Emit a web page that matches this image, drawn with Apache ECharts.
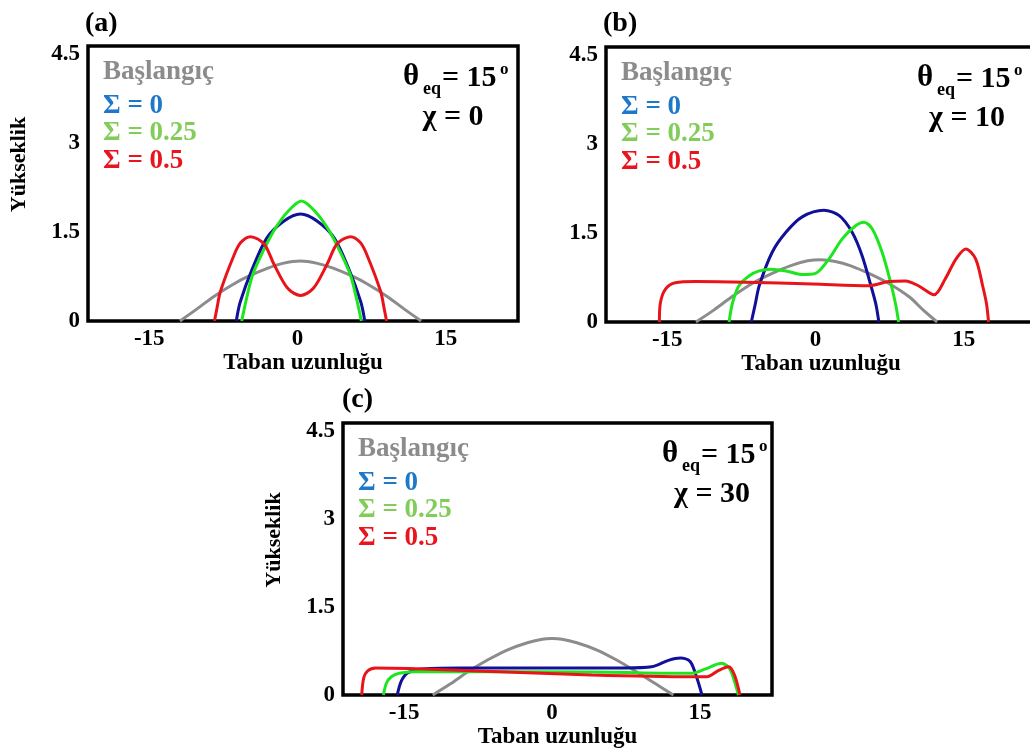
<!DOCTYPE html>
<html><head><meta charset="utf-8">
<script src="https://cdn.jsdelivr.net/npm/echarts@6/dist/echarts.min.js"></script>
<style>html,body{margin:0;padding:0;background:#fff}#c{width:1030px;height:756px}</style>
</head><body><div id="c"></div>
<script>
// ---------- data ----------
const xTickValues = [-15, 0, 15];
const yTickValues = [0, 1.5, 3, 4.5];
const seriesNames = ['Başlangıç', 'Σ = 0', 'Σ = 0.25', 'Σ = 0.5'];
const panelLabels = ['(a)', '(b)', '(c)'];
const thetaText = ['θ', 'eq', '= 15', 'o'];
const chiLabels = ['χ = 0', 'χ = 10', 'χ = 30'];
const xAxisTitle = 'Taban uzunluğu';
const yAxisTitle = 'Yükseklik';

// panel (a): χ = 0
const a_initial = [[-11.9,0],[-10.2,0.2],[-8.5,0.41],[-6.5,0.62],[-5,0.75],[-3,0.89],[-1.5,0.97],[0.3,1.01],[2,0.97],[3.6,0.89],[5.6,0.75],[7.1,0.62],[9.1,0.41],[10.8,0.2],[12.5,0]];
const a_s0 = [[-6.2,0],[-5.8,0.32],[-4.55,0.89],[-3.1,1.4],[-1.4,1.68],[0.3,1.8],[2.0,1.68],[3.7,1.4],[5.15,0.89],[6.4,0.32],[6.8,0]];
const a_s025 = [[-5.65,0],[-5.2,0.35],[-4.6,0.75],[-3.7,1.1],[-2.4,1.52],[-1.0,1.84],[0.4,2.02],[1.8,1.84],[3.2,1.52],[4.5,1.1],[5.4,0.75],[6.0,0.35],[6.45,0]];
const a_s05 = [[-8.4,0],[-8.15,0.22],[-7.8,0.5],[-6.4,1.12],[-5.75,1.32],[-4.75,1.42],[-3.4,1.3],[-2.4,0.96],[-1.0,0.55],[0.3,0.43],[1.6,0.55],[3.0,0.96],[4.0,1.3],[5.35,1.42],[6.35,1.32],[7.0,1.12],[8.4,0.5],[8.75,0.22],[9.0,0]];

// panel (b): χ = 10
const b_initial = [[-12.1,0],[-10.3,0.2],[-8.5,0.42],[-6.5,0.64],[-4.5,0.81],[-2.5,0.95],[-0.8,1.03],[0.5,1.05],[2,1.02],[3.5,0.95],[5.5,0.81],[7.5,0.64],[9.5,0.42],[10.9,0.2],[12.3,0]];
const b_s0 = [[-6.5,0],[-6.1,0.3],[-5.7,0.61],[-4.4,1.17],[-3.0,1.51],[-1.35,1.77],[0.85,1.88],[2.4,1.79],[3.7,1.51],[4.7,1.12],[5.6,0.61],[6.1,0.3],[6.4,0]];
const b_s025 = [[-8.75,0],[-8.4,0.32],[-7.75,0.61],[-6.7,0.78],[-5.7,0.86],[-4.55,0.89],[-3.0,0.86],[-1.35,0.8],[0,0.82],[1.35,1.06],[2.7,1.4],[4.05,1.62],[4.9,1.68],[5.73,1.57],[6.74,1.17],[7.6,0.66],[8.1,0.3],[8.4,0]];
const b_s05 = [[-15.8,0],[-15.7,0.32],[-15.2,0.55],[-14.2,0.66],[-12.1,0.68],[-7.1,0.67],[-0.3,0.64],[5.4,0.61],[7.4,0.68],[9.1,0.69],[10.4,0.61],[12.0,0.46],[13.1,0.72],[14.2,1.06],[15.2,1.23],[16.2,1.06],[16.9,0.61],[17.3,0.3],[17.5,0]];

// panel (c): χ = 30
const c_initial = [[-12.1,0],[-10.3,0.19],[-8.5,0.4],[-6.5,0.6],[-4.5,0.77],[-2.5,0.89],[-1,0.95],[0,0.96],[1,0.95],[2.5,0.89],[4.5,0.77],[6.5,0.6],[8.5,0.4],[10.5,0.19],[12.3,0]];
const c_s0 = [[-15.7,0],[-15.3,0.23],[-14.7,0.37],[-13.5,0.44],[-9.4,0.46],[0,0.46],[7.4,0.46],[10.1,0.48],[11.8,0.59],[13.0,0.63],[14.0,0.57],[14.7,0.28],[15.2,0]];
const c_s025 = [[-17.1,0],[-16.8,0.2],[-16.3,0.31],[-15.5,0.37],[-13.5,0.4],[4.0,0.39],[14.2,0.37],[15.5,0.44],[17.2,0.54],[18.0,0.45],[18.5,0.23],[18.9,0]];
const c_s05 = [[-19.3,0],[-19.1,0.29],[-18.7,0.41],[-17.9,0.46],[-14.5,0.45],[-6.1,0.4],[4.0,0.34],[14.2,0.31],[15.7,0.31],[16.9,0.42],[17.9,0.48],[18.5,0.34],[19.05,0]];

const panelData = [
  [a_initial, a_s0, a_s025, a_s05],
  [b_initial, b_s0, b_s025, b_s05],
  [c_initial, c_s0, c_s025, c_s05]
];

// ---------- styling ----------
const FONT = '"Liberation Serif","Times New Roman",serif';
const lineColors = ['#8c8c8c', '#10109a', '#1ee61e', '#e8141a'];
const legendColors = ['#8c8c8c', '#1e78c8', '#82cd5a', '#e8141e'];
const grids = [
  {left: 88, top: 46, width: 430, height: 275},
  {left: 606, top: 47, width: 430, height: 275},
  {left: 343, top: 423, width: 429, height: 272}
];
const X_MIN = -21.2, X_MAX = 22.3, Y_MAX = 4.63;

const chart = echarts.init(document.getElementById('c'), null, {renderer: 'canvas'});

const option = {
  backgroundColor: '#fff',
  animation: false,
  title: panelLabels.map((t, i) => ({
    text: t, padding: 0,
    left: [85, 603, 342][i], top: [10, 10, 386][i],
    textStyle: {fontFamily: FONT, fontWeight: 'bold', fontSize: 28, color: '#000'}
  })),
  grid: grids.map(g => Object.assign({show: true, borderColor: '#000', borderWidth: 3.5, backgroundColor: 'transparent', containLabel: false, outerBoundsMode: 'none'}, g)),
  xAxis: grids.map((g, i) => ({
    type: 'value', gridIndex: i, min: X_MIN, max: X_MAX,
    name: xAxisTitle, nameLocation: 'middle', nameGap: 27,
    nameTextStyle: {fontFamily: FONT, fontWeight: 'bold', fontSize: 23, color: '#000'},
    axisLine: {show: false}, axisTick: {show: false}, splitLine: {show: false},
    axisLabel: {customValues: xTickValues, margin: 7, fontFamily: FONT, fontWeight: 'bold', fontSize: 23, color: '#000'}
  })),
  yAxis: grids.map((g, i) => ({
    type: 'value', gridIndex: i, min: 0, max: Y_MAX,
    name: i === 1 ? '' : yAxisTitle, nameLocation: 'middle', nameGap: 58,
    nameTextStyle: {fontFamily: FONT, fontWeight: 'bold', fontSize: 22, color: '#000', padding: [0, 0, 0, 38]},
    axisLine: {show: false}, axisTick: {show: false}, splitLine: {show: false},
    axisLabel: {customValues: yTickValues, margin: 8, fontFamily: FONT, fontWeight: 'bold', fontSize: 23, color: '#000'}
  })),
  legend: [],
  series: [],
  graphic: []
};

grids.forEach((g, i) => {
  option.legend.push({
    left: g.left + 10, top: g.top + 12.5, padding: 0, itemWidth: 0, itemHeight: 0, itemGap: 0,
    orient: 'vertical', selectedMode: false, icon: 'none',
    textStyle: {fontFamily: FONT, fontWeight: 'bold', fontSize: 27},
    data: [{name: seriesNames[0], icon: 'none', textStyle: {color: legendColors[0]}}]
  });
  option.legend.push({
    left: g.left + 10, top: g.top + 46.5, padding: 0, itemWidth: 0, itemHeight: 0, itemGap: 0.5,
    orient: 'vertical', selectedMode: false, icon: 'none',
    textStyle: {fontFamily: FONT, fontWeight: 'bold', fontSize: 27},
    data: seriesNames.slice(1).map((n, k) => ({name: n, icon: 'none', textStyle: {color: legendColors[k + 1]}}))
  });
  panelData[i].forEach((d, k) => {
    option.series.push({
      name: seriesNames[k], type: 'line', xAxisIndex: i, yAxisIndex: i,
      data: d, showSymbol: false, smooth: 0.3,
      lineStyle: {color: lineColors[k], width: 3}, itemStyle: {color: lineColors[k]},
      z: 2 + k, silent: true
    });
  });
  const gx = g.left + [315, 311, 319][i], gy = g.top;
  const ts = {fontFamily: FONT, fontWeight: 'bold', fill: '#000'};
  option.graphic.push({
    type: 'group', x: gx, y: gy, silent: true,
    children: [
      {type: 'text', x: 0, y: 31, style: Object.assign({text: thetaText[0], fontSize: 31, verticalAlign: 'middle', align: 'left'}, ts)},
      {type: 'text', x: 20, y: 43, style: Object.assign({text: thetaText[1], fontSize: 18, verticalAlign: 'middle', align: 'left'}, ts)},
      {type: 'text', x: 39, y: 32, style: Object.assign({text: thetaText[2], fontSize: 30, verticalAlign: 'middle', align: 'left'}, ts)},
      {type: 'text', x: 97, y: 24, style: Object.assign({text: thetaText[3], fontSize: 17, verticalAlign: 'middle', align: 'left'}, ts)},
      {type: 'text', x: 50, y: 71, style: Object.assign({text: chiLabels[i], fontSize: 30, verticalAlign: 'middle', align: 'center'}, ts)}
    ]
  });
});

chart.setOption(option);
</script></body></html>
